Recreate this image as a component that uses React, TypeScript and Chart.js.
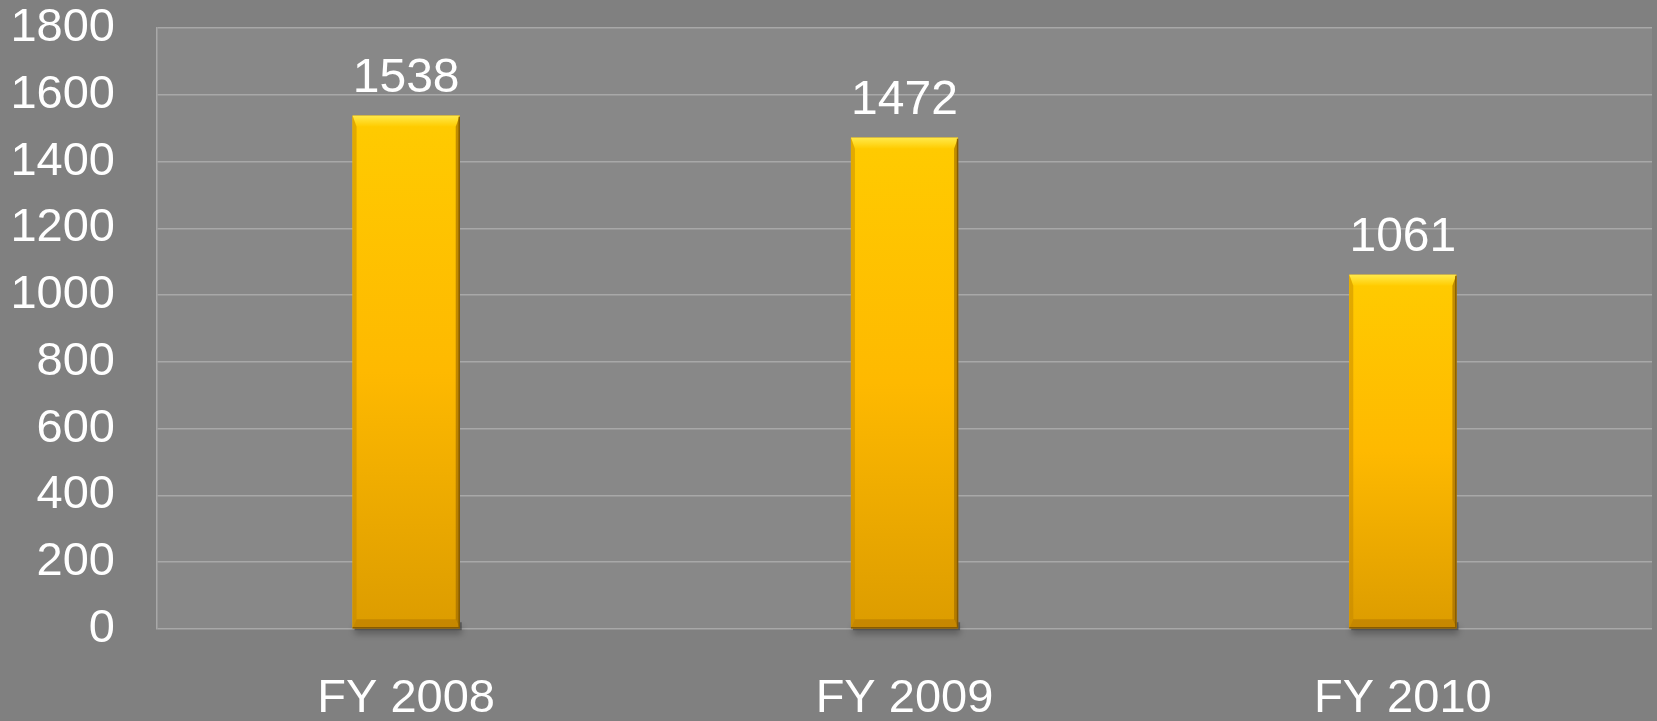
import React, { useEffect, useRef } from "react";
import { Chart, registerables } from "chart.js";

Chart.register(...registerables);

const categories: string[] = ["FY 2008", "FY 2009", "FY 2010"];
const values: number[] = [1538, 1472, 1061];
const yMin = 0;
const yMax = 1800;
const yStep = 200;

const FONT = "'Liberation Sans', Arial, Helvetica, sans-serif";
const FSIZE = 47;

export default function App() {
  const ref = useRef<HTMLCanvasElement>(null);

  useEffect(() => {
    document.body.style.margin = "0";
    document.body.style.background = "#808080";
    const canvas = ref.current;
    if (!canvas) return;

    const plotBg = {
      id: "plotBg",
      beforeDraw(chart: any) {
        const { ctx, chartArea: a } = chart;
        ctx.save();
        ctx.fillStyle = "#888888";
        ctx.fillRect(a.left, a.top, a.width, a.height);
        ctx.restore();
      },
    };

    const barStyle = {
      id: "barStyle",
      beforeDatasetsDraw(chart: any) {
        const { ctx } = chart;
        const meta = chart.getDatasetMeta(0);
        ctx.save();
        meta.data.forEach((bar: any) => {
          const l = bar.x - bar.width / 2;
          const r = bar.x + bar.width / 2;
          const b = bar.base;
          ctx.shadowColor = "rgba(0,0,0,0.45)";
          ctx.shadowBlur = 6;
          ctx.shadowOffsetY = 4;
          ctx.fillStyle = "rgba(60,60,60,0.6)";
          ctx.fillRect(l + 2, b - 6, r - l, 8);
        });
        ctx.restore();
      },
      afterDatasetsDraw(chart: any) {
        const { ctx } = chart;
        const meta = chart.getDatasetMeta(0);
        ctx.save();
        meta.data.forEach((bar: any, i: number) => {
          const l = bar.x - bar.width / 2;
          const r = bar.x + bar.width / 2;
          const t = bar.y;
          const b = bar.base;
          const g = ctx.createLinearGradient(0, t, 0, b);
          g.addColorStop(0, "#FFCB00");
          g.addColorStop(0.5, "#FEB900");
          g.addColorStop(1, "#DC9C00");
          ctx.fillStyle = g;
          ctx.fillRect(l, t, r - l, b - t);

          const bt = 11; // top bevel
          const bs = 4; // side bevel
          const bb = 9; // bottom bevel
          const gt = ctx.createLinearGradient(0, t, 0, t + bt);
          gt.addColorStop(0, "#FFE94A");
          gt.addColorStop(1, "#FFCC00");
          ctx.fillStyle = gt;
          ctx.beginPath();
          ctx.moveTo(l, t);
          ctx.lineTo(r, t);
          ctx.lineTo(r - bs, t + bt);
          ctx.lineTo(l + bs, t + bt);
          ctx.closePath();
          ctx.fill();
          ctx.fillStyle = "rgba(190,130,0,0.45)";
          ctx.beginPath();
          ctx.moveTo(l, t);
          ctx.lineTo(l + bs, t + bt);
          ctx.lineTo(l + bs, b - bb);
          ctx.lineTo(l, b);
          ctx.closePath();
          ctx.fill();
          ctx.fillStyle = "rgba(150,100,0,0.6)";
          ctx.beginPath();
          ctx.moveTo(r, t);
          ctx.lineTo(r - bs, t + bt);
          ctx.lineTo(r - bs, b - bb);
          ctx.lineTo(r, b);
          ctx.closePath();
          ctx.fill();
          ctx.fillStyle = "rgba(170,110,0,0.45)";
          ctx.beginPath();
          ctx.moveTo(l, b);
          ctx.lineTo(l + bs, b - bb);
          ctx.lineTo(r - bs, b - bb);
          ctx.lineTo(r, b);
          ctx.closePath();
          ctx.fill();
          ctx.strokeStyle = "rgba(120,80,0,0.8)";
          ctx.lineWidth = 1.5;
          ctx.beginPath();
          ctx.moveTo(r - 0.5, t + 1);
          ctx.lineTo(r - 0.5, b - 0.5);
          ctx.lineTo(l, b - 0.5);
          ctx.stroke();

          ctx.fillStyle = "#ffffff";
          ctx.font = `48px ${FONT}`;
          ctx.textAlign = "center";
          ctx.textBaseline = "alphabetic";
          ctx.fillText(String(values[i]), bar.x, t - 24);
        });
        ctx.restore();
      },
    };

    const chart = new Chart(canvas, {
      type: "bar",
      data: {
        labels: categories,
        datasets: [
          {
            data: values,
            backgroundColor: "#FEB900",
            borderWidth: 0,
            barPercentage: 0.215,
            categoryPercentage: 1,
          },
        ],
      },
      options: {
        responsive: true,
        maintainAspectRatio: false,
        animation: false,
        layout: { padding: { top: 0, right: 5, left: 0, bottom: 0 } },
        plugins: {
          legend: { display: false },
          tooltip: { enabled: false },
          title: { display: false },
        },
        scales: {
          x: {
            grid: { display: false, drawTicks: false },
            border: { display: false },
            ticks: {
              color: "#ffffff",
              padding: 42,
              font: { family: FONT, size: FSIZE },
              maxRotation: 0,
            },
            afterFit(scale: any) {
              scale.height = 92;
            },
          },
          y: {
            min: yMin,
            max: yMax,
            grid: {
              color: "#a8a8a8",
              lineWidth: 1.5,
              drawTicks: true,
              tickLength: 42,
              tickColor: "rgba(0,0,0,0)",
            },
            border: { display: true, color: "#a8a8a8", width: 1.5 },
            ticks: {
              stepSize: yStep,
              color: "#ffffff",
              padding: 0,
              font: { family: FONT, size: FSIZE },
              callback: (v: any) => String(v),
            },
            afterFit(scale: any) {
              scale.width = 157;
            },
          },
        },
      },
      plugins: [plotBg, barStyle],
    });

    return () => {
      chart.destroy();
    };
  }, []);

  return (
    <div
      style={{
        position: "fixed",
        left: 0,
        top: 0,
        width: 1657,
        height: 721,
        background: "#808080",
      }}
    >
      <canvas ref={ref} />
    </div>
  );
}
